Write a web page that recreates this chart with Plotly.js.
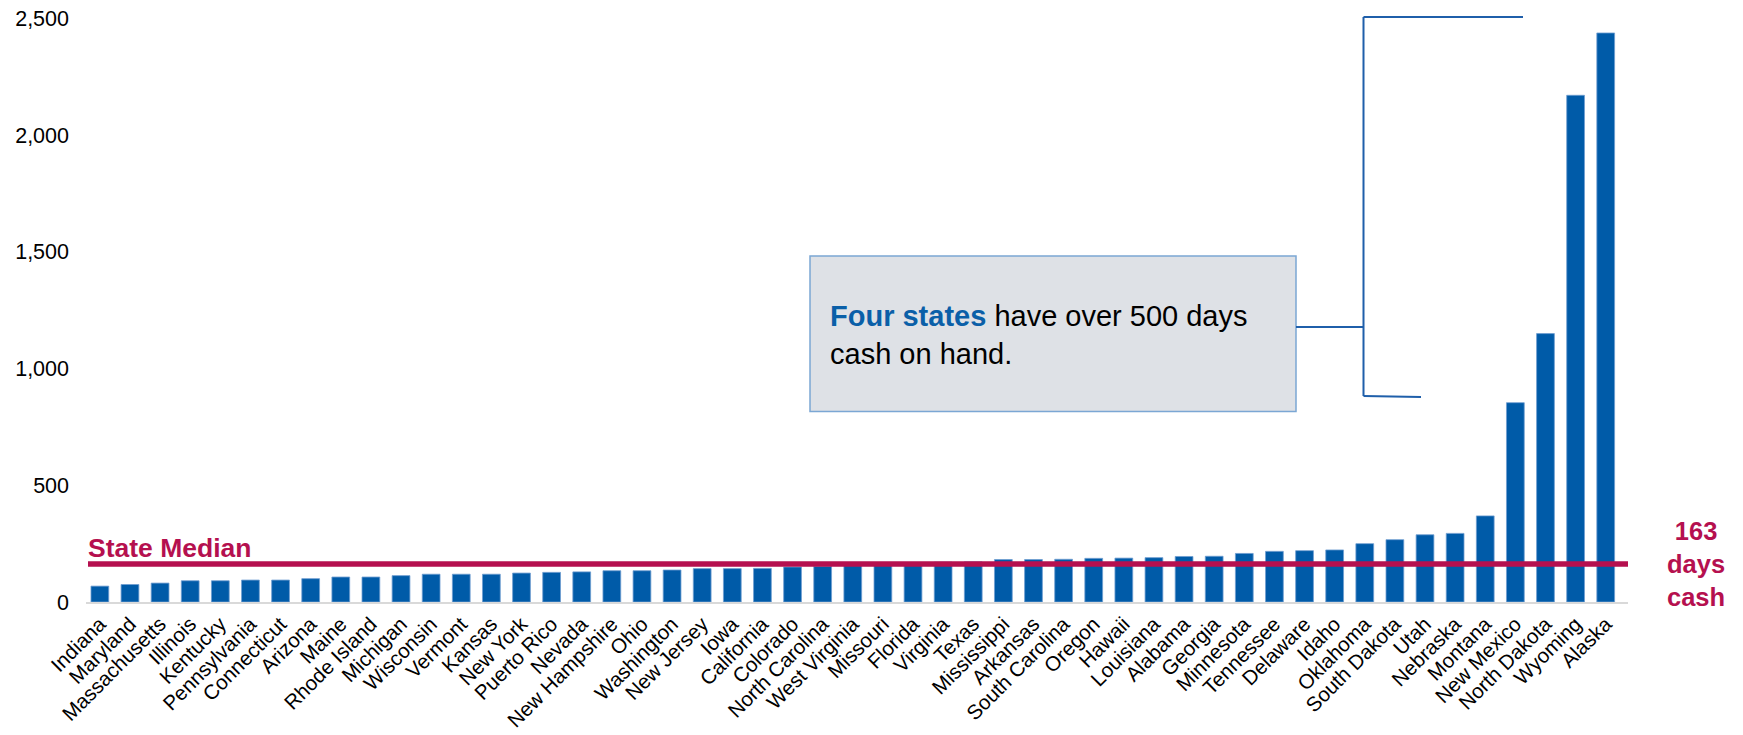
<!DOCTYPE html>
<html>
<head>
<meta charset="utf-8">
<script src="https://cdn.plot.ly/plotly-3.0.1.min.js"></script>
<style>html,body{margin:0;padding:0;background:#fff;}#chart{width:1743px;height:735px;}</style>
</head>
<body>
<div id="chart"></div>
<script>
const states = ["Indiana","Maryland","Massachusetts","Illinois","Kentucky","Pennsylvania","Connecticut","Arizona","Maine","Rhode Island","Michigan","Wisconsin","Vermont","Kansas","New York","Puerto Rico","Nevada","New Hampshire","Ohio","Washington","New Jersey","Iowa","California","Colorado","North Carolina","West Virginia","Missouri","Florida","Virginia","Texas","Mississippi","Arkansas","South Carolina","Oregon","Hawaii","Louisiana","Alabama","Georgia","Minnesota","Tennessee","Delaware","Idaho","Oklahoma","South Dakota","Utah","Nebraska","Montana","New Mexico","North Dakota","Wyoming","Alaska"];
const daysCash = [68,75,81,91,91,94,94,100,107,107,113,119,119,119,124,127,129,134,134,137,143,143,144,150,153,156,159,163,171,172,182,182,183,187,188,190,195,196,208,217,220,223,250,267,288,294,369,854,1150,2171,2438];
const medianValue = 163;
const yTicks = [0,500,1000,1500,2000,2500];

const W=1743,H=735,L=86,R=115,T=5,B=133;
const px2x = p => (p-L)/(W-L-R);
const py2y = p => (H-B-p)/(H-T-B);
const FONT = "Liberation Sans, Arial, sans-serif";
const MAGENTA = "#B5104F";
const BLUE = "#005BA8";
const LINEBLUE = "#1F5FAA";

const trace = {
  type:"bar", x:states, y:daysCash,
  marker:{color:BLUE, line:{color:"#6f9dd0", width:0.8}},
  hoverinfo:"x+y"
};

const layout = {
  width:W, height:H,
  margin:{l:L, r:R, t:T, b:B, pad:0},
  paper_bgcolor:"#fff", plot_bgcolor:"#fff",
  showlegend:false,
  bargap:0.41,
  font:{family:FONT, size:20.5, color:"#000"},
  xaxis:{
    type:"category", range:[-0.46, 50.74], tickangle:-45,
    showline:true, linecolor:"#D9D9D9", linewidth:2,
    ticks:"", showgrid:false, zeroline:false, automargin:false,
    tickfont:{family:FONT, size:20.5, color:"#000"},
    ticklabelstandoff:0
  },
  yaxis:{
    range:[0, (H-T-B)/0.2334], tickvals:yTicks, tickformat:",d",
    showgrid:false, zeroline:false, showline:false, ticks:"",
    automargin:false, tickfont:{family:FONT, size:21.5, color:"#000"},
    ticklabelstandoff:16
  },
  shapes:[
    {type:"line", xref:"paper", yref:"y", x0:px2x(88), x1:1, y0:medianValue, y1:medianValue,
     line:{color:MAGENTA, width:5.5}},
    {type:"rect", xref:"paper", yref:"paper", x0:px2x(810), x1:px2x(1296), y0:py2y(411.5), y1:py2y(256),
     fillcolor:"#DEE1E6", line:{color:"#7BA7D4", width:1.5}},
    {type:"line", xref:"paper", yref:"paper", x0:px2x(1296), x1:px2x(1363.5), y0:py2y(327), y1:py2y(327),
     line:{color:LINEBLUE, width:2}},
    {type:"line", xref:"paper", yref:"paper", x0:px2x(1363.5), x1:px2x(1363.5), y0:py2y(17), y1:py2y(396),
     line:{color:LINEBLUE, width:2}},
    {type:"line", xref:"paper", yref:"paper", x0:px2x(1363.5), x1:px2x(1523), y0:py2y(17), y1:py2y(17),
     line:{color:LINEBLUE, width:2}},
    {type:"line", xref:"paper", yref:"paper", x0:px2x(1363.5), x1:px2x(1421), y0:py2y(396), y1:py2y(397),
     line:{color:LINEBLUE, width:2}}
  ],
  annotations:[
    {xref:"paper", yref:"paper", x:px2x(86), y:py2y(547.5), xanchor:"left", yanchor:"middle",
     text:"<b>State Median</b>", showarrow:false, font:{family:FONT, size:26.5, color:MAGENTA}},
    {xref:"paper", yref:"y", x:px2x(1696), y:medianValue, xanchor:"center", yanchor:"middle",
     text:"<b>163<br>days<br>cash</b>", showarrow:false, align:"center",
     font:{family:FONT, size:25.5, color:MAGENTA}},
    {xref:"paper", yref:"paper", x:px2x(828), y:py2y(335), xanchor:"left", yanchor:"middle",
     text:"<b><span style='color:#0A5FA8'>Four states</span></b> have over 500 days<br>cash on hand.",
     showarrow:false, align:"left", font:{family:FONT, size:29, color:"#000"}}
  ]
};

Plotly.newPlot("chart",[trace],layout,{displayModeBar:false, staticPlot:true});
</script>
</body>
</html>
